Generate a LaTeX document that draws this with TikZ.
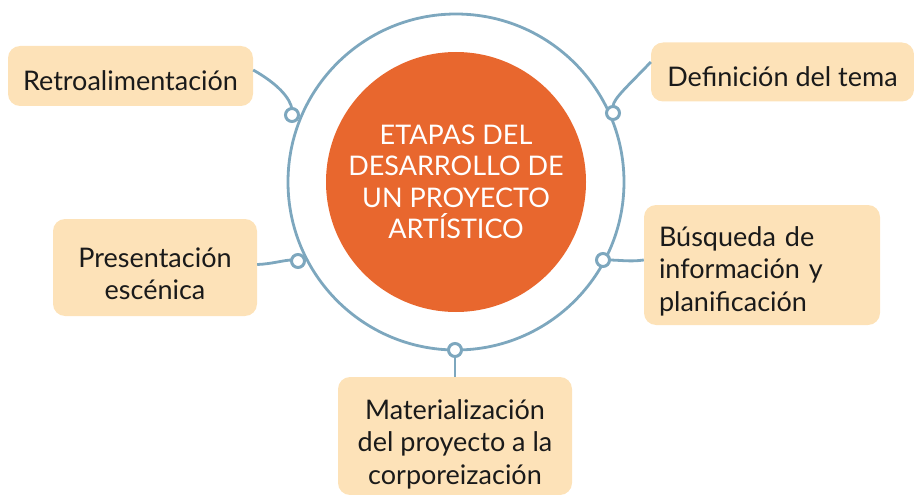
\documentclass[tikz,border=0pt]{standalone}
\usepackage{fontspec}
\setmainfont{Lato}
\definecolor{boxfill}{HTML}{FDE2B8}
\definecolor{ringblue}{HTML}{7DA7BE}
\definecolor{hub}{HTML}{E8672E}
\definecolor{txt}{HTML}{1A1A1A}
\begin{document}
\begin{tikzpicture}[x=1pt,y=-1pt,
  stage/.style={fill=boxfill,draw=none,rounded corners=12pt,inner sep=0pt},
  stagetext/.style={text=txt,font=\fontsize{27}{32.5}\selectfont,align=center,inner sep=0pt},
  dot/.style={circle,draw=ringblue,fill=white,line width=3pt,minimum size=13pt,inner sep=0pt},
  link/.style={draw=ringblue,line width=2.8pt}]
\useasboundingbox (0,0) rectangle (914,495);
% ring and hub
\node[circle,draw=ringblue,line width=2.8pt,minimum size=336pt,inner sep=0pt] (ring) at (456,182) {};
\node[circle,fill=hub,minimum size=260pt,inner sep=0pt,text=white,align=center,font=\fontsize{27}{31.5}\selectfont] (hub) at (456,182) {ETAPAS DEL\\DESARROLLO DE\\UN PROYECTO\\ARTÍSTICO};
% boxes
\node[stage,minimum width=245pt,minimum height=60pt] (retro) at (130.5,76) {};
\node[stage,minimum width=263pt,minimum height=59pt] (defi) at (782.5,72) {};
\node[stage,minimum width=204pt,minimum height=97pt] (pres) at (155,267.5) {};
\node[stage,minimum width=236pt,minimum height=120pt] (busq) at (762,265) {};
\node[stage,minimum width=234pt,minimum height=118pt] (mate) at (455,436) {};
% texts
\node[stagetext] (retroT) at (130.5,81) {Retroalimentación};
\node[stagetext] (defiT) at (782.5,77) {Definición del tema};
\node[stagetext] (presT) at (155,274) {Presentación\\escénica};
\node[stagetext,align=left,text width=206pt] (busqT) at (762,271) {Búsqueda de\\información y\\planificación};
\node[stagetext] (mateT) at (455,444) {Materialización\\del proyecto a la\\corporeización};
% connectors
\draw[link] ([yshift=6pt]retro.east) .. controls (278,84) and (290,98) .. (292,109);
\draw[link] ([yshift=10pt]defi.west) .. controls (628,86) and (614,98) .. (613,106);
\draw[link] ([yshift=3pt]pres.east) .. controls (272,264) and (284,260) .. (292,260);
\draw[link] ([yshift=5pt]busq.west) .. controls (630,262) and (620,260) .. (608,260);
\draw[link] (mate.north) -- (455,356);
% dots
\node[dot] (d1) at (292,115) {};
\node[dot] (d2) at (613,113) {};
\node[dot] (d3) at (298,261) {};
\node[dot] (d4) at (603,260) {};
\node[dot] (d5) at (455,350) {};
\end{tikzpicture}
\end{document}
